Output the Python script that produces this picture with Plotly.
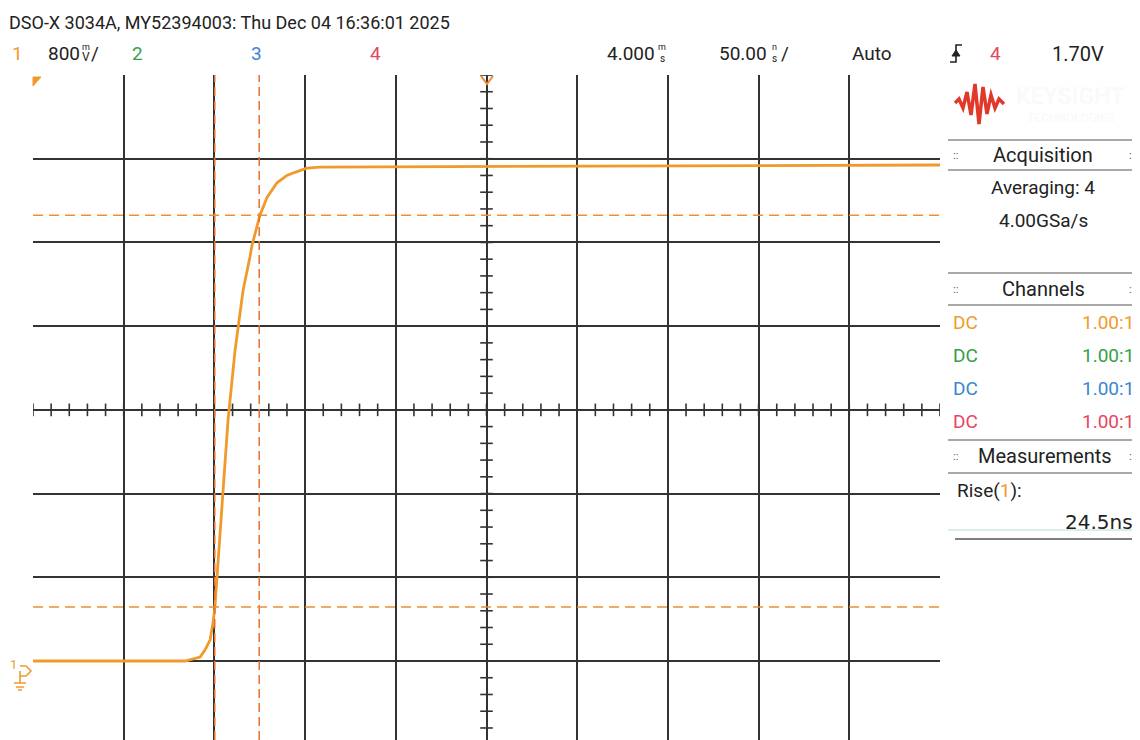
import numpy as np
import plotly.graph_objects as go

# ---------------- data ----------------
# channel 1 waveform: time (ns, relative to screen centre) and voltage (V)
t_ns = [-250, -200, -166.2, -157.9, -155.2, -152.4, -150.8, -149.7, -148.0, -145.8,
        -142.5, -138.6, -134.2, -130.4, -129.3, -124.9, -121.0, -115.5, -110.0,
        -105.6, -99.0, -91.8, 0, 100, 250]
v_ch1 = [0.0, 0.0, 0.0, 0.038, 0.105, 0.20, 0.36, 0.52, 0.965, 1.54,
         2.30, 2.97, 3.54, 3.86, 3.97, 4.26, 4.43, 4.57, 4.64,
         4.67, 4.71, 4.72, 4.725, 4.73, 4.74]
cursor_t = [-149.8, -125.3]          # X cursors (ns)
cursor_v = [0.516, 4.26]             # Y cursors (V)
x_range = [-250, 250]                # 50 ns/div, 10 div
y_range = [-0.755, 5.6]              # 800 mV/div
x_div = 50
y_div = 0.8
centre_v = 2.4

header = "DSO-X 3034A, MY52394003: Thu Dec 04 16:36:01 2025"
channel_colors = ["#f09a2c", "#34a048", "#3a86d0", "#e8455e"]
probe_ratios = ["1.00:1", "1.00:1", "1.00:1", "1.00:1"]
rise_value = "24.5ns"

# ---------------- geometry helpers ----------------
# the page body adds an 8px margin, so the figure is 8px smaller and coords are shifted
OFF = 8
W, H = 1140 - OFF, 740 - OFF
L, R, T, B = 33 - OFF, 200, 75 - OFF, 0
PW, PH = W - L - R, H - T - B


def px(x):            # screenshot x (px) -> paper x
    return (x - 33) / PW


def py(y):            # screenshot y (px) -> paper y
    return (740 - y) / PH


def path(points, close=False):
    s = "M " + " L ".join(f"{px(x):.5f},{py(y):.5f}" for x, y in points)
    return s + (" Z" if close else "")


NARROW = "Roboto, Liberation Sans, sans-serif"
ORANGE = channel_colors[0]

fig = go.Figure()

# centre graticule ticks
vt = np.arange(-0.8, 5.61, y_div / 5)
fig.add_trace(go.Scatter(x=[0] * len(vt), y=vt, mode="markers", hoverinfo="skip",
                         marker=dict(symbol="line-ew", size=9, line=dict(color="#333", width=1.6)),
                         showlegend=False))
ht = np.arange(-250, 251, x_div / 5)
fig.add_trace(go.Scatter(x=ht, y=[centre_v] * len(ht), mode="markers", hoverinfo="skip",
                         marker=dict(symbol="line-ns", size=9, line=dict(color="#333", width=1.6)),
                         showlegend=False))

# waveform
fig.add_trace(go.Scatter(x=t_ns, y=v_ch1, mode="lines", line=dict(color=ORANGE, width=2.8),
                         hoverinfo="skip", showlegend=False))

# cursors
for t in cursor_t:
    fig.add_vline(x=t, line=dict(color="#e8702a", width=1.5, dash="9px,5px"))
for v in cursor_v:
    fig.add_hline(y=v, line=dict(color="#ef8f35", width=1.5, dash="10px,6px"))

shapes = []
# plot borders
shapes.append(dict(type="line", xref="paper", yref="paper", x0=px(33), x1=px(940), y0=py(75), y1=py(75),
                   line=dict(color="#111", width=2.5)))
shapes.append(dict(type="line", xref="paper", yref="paper", x0=px(33), x1=px(33), y0=py(75), y1=py(740),
                   line=dict(color="#222", width=2)))
shapes.append(dict(type="line", xref="paper", yref="paper", x0=px(940), x1=px(940), y0=py(75), y1=py(740),
                   line=dict(color="#222", width=2)))

# side panel (rounded rectangle)
x0p, x1p, y0p, y1p, r = 947, 1137, 71, 748, 8
panel = (f"M {px(x0p):.5f},{py(y0p + r):.5f} "
         f"Q {px(x0p):.5f},{py(y0p):.5f} {px(x0p + r):.5f},{py(y0p):.5f} "
         f"L {px(x1p - r):.5f},{py(y0p):.5f} "
         f"Q {px(x1p):.5f},{py(y0p):.5f} {px(x1p):.5f},{py(y0p + r):.5f} "
         f"L {px(x1p):.5f},{py(y1p):.5f} L {px(x0p):.5f},{py(y1p):.5f} Z")
shapes.append(dict(type="path", xref="paper", yref="paper", path=panel,
                   fillcolor="#ebebeb", line=dict(color="#8a8a8a", width=1.5), layer="below"))
for yy in [140, 170, 273, 305, 440, 473]:
    shapes.append(dict(type="line", xref="paper", yref="paper", x0=px(948), x1=px(1136), y0=py(yy), y1=py(yy),
                       line=dict(color="#8c8c8c", width=1.5)))
shapes.append(dict(type="line", xref="paper", yref="paper", x0=px(948), x1=px(1137), y0=py(530), y1=py(530),
                   line=dict(color="#b8dcd8", width=1)))
shapes.append(dict(type="line", xref="paper", yref="paper", x0=px(955), x1=px(1135), y0=py(539), y1=py(539),
                   line=dict(color="#555", width=1.5)))

# logo wave
logo = [(955, 103), (959, 99), (963, 108), (967, 92), (971, 115), (975, 84), (979, 124),
        (983, 87), (987, 114), (991, 95), (995, 108), (999, 99), (1004, 104)]
shapes.append(dict(type="path", xref="paper", yref="paper", path=path(logo),
                   line=dict(color="#e0392a", width=3.5)))

# top-left channel marker triangle
shapes.append(dict(type="path", xref="paper", yref="paper",
                   path=path([(33, 77), (41, 77), (33, 86)], close=True),
                   fillcolor=ORANGE, line=dict(color=ORANGE, width=1)))
# trigger position marker
shapes.append(dict(type="path", xref="paper", yref="paper",
                   path=path([(481, 76), (487, 84), (493, 76)]),
                   line=dict(color="#f08a30", width=2)))
# ground marker
shapes.append(dict(type="path", xref="paper", yref="paper",
                   path=path([(20, 666), (26, 666), (31, 671), (26, 676), (20, 676)]),
                   line=dict(color=ORANGE, width=1.6)))
shapes.append(dict(type="path", xref="paper", yref="paper",
                   path=path([(20, 671), (20, 683)]), line=dict(color=ORANGE, width=1.6)))
for (a, b, yy) in [(14, 26, 683), (16, 24, 687), (18, 22, 690)]:
    shapes.append(dict(type="line", xref="paper", yref="paper", x0=px(a), x1=px(b), y0=py(yy), y1=py(yy),
                       line=dict(color=ORANGE, width=1.5)))
# trigger edge symbol
shapes.append(dict(type="path", xref="paper", yref="paper",
                   path=path([(950, 62), (956, 62), (956, 45), (962, 45)]),
                   line=dict(color="#222", width=1.6)))
shapes.append(dict(type="path", xref="paper", yref="paper",
                   path=path([(952, 56), (956, 50), (960, 56)], close=True),
                   fillcolor="#222", line=dict(color="#222", width=1)))

annotations = []


def txt(s, x, y, size=19, color="#222", anchor="center", family=NARROW, bold=False):
    annotations.append(dict(text=f"<b>{s}</b>" if bold else s, x=px(x), y=py(y), xref="paper", yref="paper",
                            xanchor=anchor, yanchor="middle", showarrow=False,
                            font=dict(size=size, color=color, family=family)))


txt(header, 7, 22, size=18, anchor="left")
txt("1", 17, 54, color=ORANGE)
txt("800", 46, 54, anchor="left")
txt("m", 86, 47, size=9)
txt("V", 86, 57, size=12)
txt("/", 95, 54)
txt("2", 137, 54, color=channel_colors[1])
txt("3", 256, 54, color=channel_colors[2])
txt("4", 375, 54, color=channel_colors[3])
txt("4.000", 657, 54, anchor="right")
txt("m", 662, 47, size=9)
txt("s", 662, 58, size=10)
txt("50.00", 769, 54, anchor="right")
txt("n", 774, 47, size=9)
txt("s", 774, 58, size=10)
txt("/", 785, 54)
txt("Auto", 872, 54)
txt("4", 995, 54, color=channel_colors[3])
txt("1.70V", 1078, 54, size=20)
txt("1", 13, 664, size=13, color=ORANGE)

# panel texts
txt("KEYSIGHT", 1070, 97, size=23, color="#fafafa", bold=True)
txt("TECHNOLOGIES", 1070, 118, size=12, color="#fafafa", bold=True)
for yy in [155, 289, 456]:
    txt("::", 955, yy, size=11, color="#555")
    txt("::", 1131, yy, size=11, color="#555")
txt("Acquisition", 1043, 155, size=20)
txt("Averaging: 4", 1043, 187, size=19)
txt("4.00GSa/s", 1043, 220, size=19)
txt("Channels", 1043, 289, size=20)
for i, (c, ratio) in enumerate(zip(channel_colors, probe_ratios)):
    yy = 322 + 33 * i
    txt("DC", 951, yy, size=19, color=c, anchor="left")
    txt(ratio, 1136, yy, size=19, color=c, anchor="right")
txt("Measurements", 1045, 456, size=20)
txt(f"Rise(<span style='color:{ORANGE}'>1</span>):", 955, 490, size=19, anchor="left")
txt(rise_value, 1135, 522, size=20, anchor="right", family="DejaVu Sans, sans-serif")

fig.update_layout(
    width=W, height=H, margin=dict(l=L, r=R, t=T, b=B, pad=0),
    paper_bgcolor="white", plot_bgcolor="white", showlegend=False,
    shapes=shapes, annotations=annotations,
    xaxis=dict(range=x_range, dtick=x_div, tick0=0, showgrid=True, gridcolor="#333", gridwidth=1.6,
               zeroline=False, showticklabels=False, ticks="", showline=False, fixedrange=True),
    yaxis=dict(range=y_range, dtick=y_div, tick0=0, showgrid=True, gridcolor="#333", gridwidth=1.6,
               zeroline=False, showticklabels=False, ticks="", showline=False, fixedrange=True),
)

fig.write_html("out.html")
